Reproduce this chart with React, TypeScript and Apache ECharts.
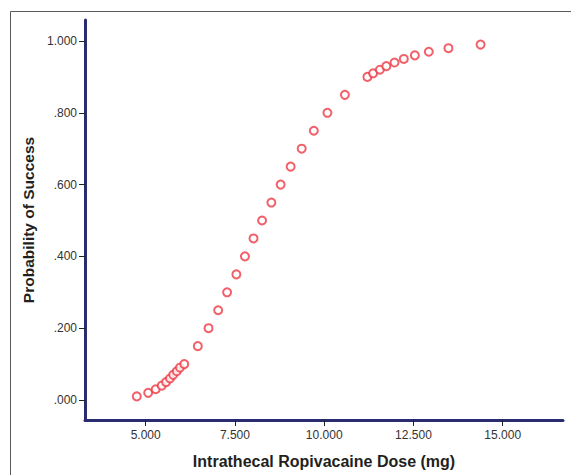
import React, { useEffect, useRef } from "react";
import * as echarts from "echarts";

const doses = [4.75, 5.07, 5.28, 5.45, 5.57, 5.68, 5.77, 5.87, 5.96, 6.08, 6.46, 6.76, 7.03, 7.28, 7.54, 7.78, 8.02, 8.26, 8.52, 8.78, 9.06, 9.37, 9.71, 10.09, 10.58, 11.21, 11.37, 11.56, 11.74, 11.97, 12.23, 12.54, 12.93, 13.48, 14.38];
const probabilities = [0.01, 0.02, 0.03, 0.04, 0.05, 0.06, 0.07, 0.08, 0.09, 0.1, 0.15, 0.2, 0.25, 0.3, 0.35, 0.4, 0.45, 0.5, 0.55, 0.6, 0.65, 0.7, 0.75, 0.8, 0.85, 0.9, 0.91, 0.92, 0.93, 0.94, 0.95, 0.96, 0.97, 0.98, 0.99];
const xTicks = [5, 7.5, 10, 12.5, 15];
const yTicks = [0, 0.2, 0.4, 0.6, 0.8, 1.0];
const xTitle = "Intrathecal Ropivacaine Dose (mg)";
const yTitle = "Probability of Success";

const FONT = "'Liberation Sans', Arial, sans-serif";

export default function App() {
  const ref = useRef<HTMLDivElement>(null);
  useEffect(() => {
    if (!ref.current) return;
    const chart = echarts.init(ref.current, undefined, { renderer: "svg" });
    const axisLineColor = "#2a2c70";
    chart.setOption({
      animation: false,
      backgroundColor: "#ffffff",
      textStyle: { fontFamily: FONT },
      graphic: [
        {
          type: "rect",
          z: -10,
          shape: { x: 10.5, y: 11.5, width: 700, height: 600 },
          style: { fill: "none", stroke: "#5a5a5a", lineWidth: 1 },
        },
      ],
      grid: { left: 85, right: 8, top: 20, bottom: 55 },
      xAxis: {
        type: "value",
        min: 3.3,
        max: 16.689,
        name: xTitle,
        nameLocation: "middle",
        nameGap: 33,
        nameTextStyle: { fontFamily: FONT, fontSize: 16, fontWeight: "bold", color: "#231f20" },
        axisLine: { show: true, onZero: false, lineStyle: { color: axisLineColor, width: 3 } },
        axisTick: { show: true, customValues: xTicks, length: 6, lineStyle: { color: "#222", width: 1 } },
        axisLabel: {
          customValues: xTicks,
          margin: 9,
          fontFamily: FONT,
          fontSize: 12,
          color: "#333",
          formatter: (v: number) => v.toFixed(3),
        },
        splitLine: { show: false },
      },
      yAxis: {
        type: "value",
        min: -0.0557,
        max: 1.0585,
        name: yTitle,
        nameLocation: "middle",
        nameGap: 47,
        nameTextStyle: { fontFamily: FONT, fontSize: 15.5, fontWeight: "bold", color: "#231f20" },
        axisLine: { show: true, onZero: false, lineStyle: { color: axisLineColor, width: 3 } },
        axisTick: { show: true, customValues: yTicks, length: 6, lineStyle: { color: "#222", width: 1 } },
        axisLabel: {
          customValues: yTicks,
          margin: 8,
          fontFamily: FONT,
          fontSize: 12,
          color: "#333",
          formatter: (v: number) => {
            const s = v.toFixed(3);
            return s.startsWith("0") ? s.slice(1) : s;
          },
        },
        splitLine: { show: false },
      },
      series: [
        {
          type: "scatter",
          symbol: "emptyCircle",
          symbolSize: 8,
          itemStyle: { color: "#ec3a44", borderColor: "#ec3a44", borderWidth: 1 },
          data: doses.map((d, i) => [d, probabilities[i]]),
        },
      ],
    });
    return () => chart.dispose();
  }, []);
  return (
    <div
      ref={ref}
      style={{ position: "fixed", left: 0, top: 0, width: 571, height: 475, background: "#fff" }}
    />
  );
}
